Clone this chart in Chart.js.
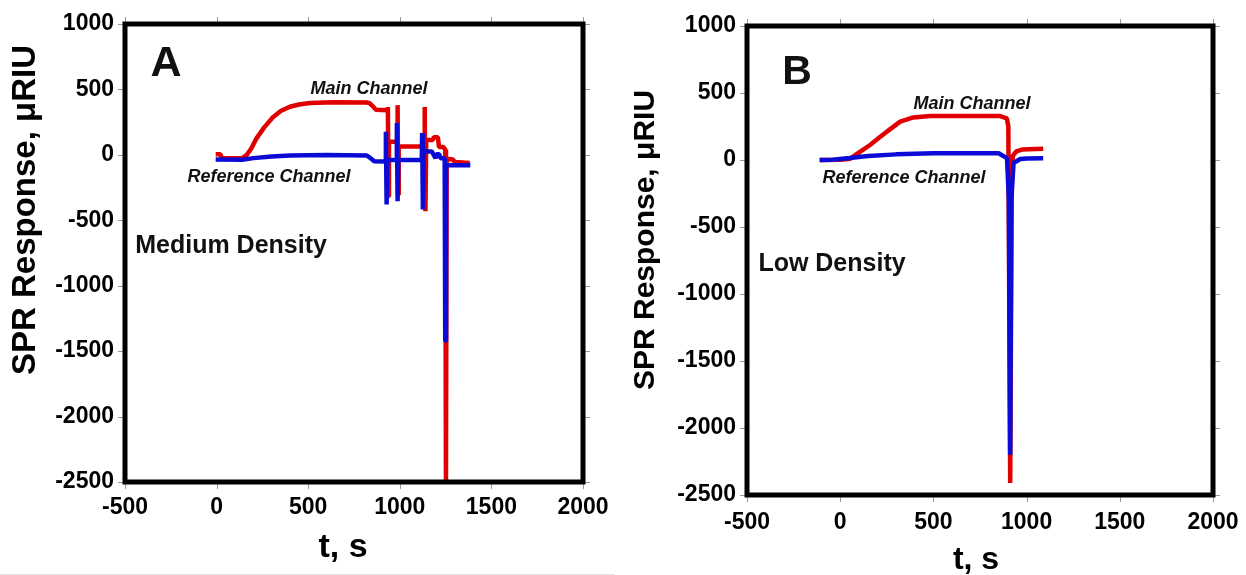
<!DOCTYPE html>
<html>
<head>
<meta charset="utf-8">
<script src="https://cdn.jsdelivr.net/npm/chart.js@4/dist/chart.umd.min.js"></script>
<style>
  html, body { margin: 0; padding: 0; background: #fff; }
  #wrapA { position: absolute; left: 0; top: 0; width: 615px; height: 575px; border-bottom: 1px solid #e4e4e4; box-sizing: border-box; }
  #wrapB { position: absolute; left: 620px; top: 0; width: 626px; height: 575px; }
</style>
</head>
<body>
<div id="wrapA"><canvas id="chartA"></canvas></div>
<div id="wrapB"><canvas id="chartB"></canvas></div>
<script>
// panel A - medium density (t in s, response in uRIU)
const mainA_t = [-5, 20, 30, 140, 165, 190, 215, 260, 306, 350, 400, 450, 510, 640, 820, 835, 850, 870, 932, 935, 938, 941, 986, 988, 991, 994, 1133, 1136, 1140, 1144, 1180, 1186, 1208, 1214, 1238, 1248, 1252, 1256, 1290, 1300, 1382];
const mainA_v = [5, 5, -25, -25, 0, 50, 120, 210, 285, 335, 368, 385, 397, 402, 400, 395, 375, 345, 340, 365, -317, 100, 100, 380, -304, 63, 63, 365, -431, 114, 114, 135, 135, 60, 60, 40, -2520, -30, -35, -55, -62];
const refA_t = [-5, 140, 200, 300, 400, 600, 820, 840, 860, 922, 924, 928, 931, 982, 984, 988, 991, 1120, 1122, 1126, 1130, 1175, 1185, 1195, 1200, 1215, 1222, 1245, 1248, 1252, 1385];
const refA_v = [-35, -38, -25, -12, -5, -2, -5, -25, -48, -50, 177, -380, -40, -40, 243, -355, -40, -40, 167, -418, 25, 25, 0, -25, 5, 5, -25, -25, -1420, -78, -80];

// panel B - low density
const mainB_t = [-110, 0, 54, 100, 160, 215, 270, 322, 392, 483, 858, 894, 902, 912, 920, 926, 945, 975, 1089];
const mainB_v = [0, 2, 10, 55, 112, 174, 232, 286, 318, 328, 328, 311, 250, -2410, -200, 30, 65, 78, 84];
const refB_t = [-110, -40, 50, 150, 300, 500, 850, 875, 895, 905, 912, 918, 930, 966, 1000, 1089];
const refB_v = [0, 2, 15, 30, 42, 50, 50, 30, 12, -300, -2200, -300, -22, 7, 12, 13];

const xTicks = [-500, 0, 500, 1000, 1500, 2000];
const yTicks = [1000, 500, 0, -500, -1000, -1500, -2000, -2500];

const RED = "#e00000";
const BLUE = "#0b0bd6";
const FONT = '"Liberation Sans", Arial, sans-serif';

const zip = (ts, vs) => ts.map((t, i) => ({ x: t, y: vs[i] }));

// thick black box, small grey ticks on all four sides, axis titles and notes
const framePlugin = {
  id: "frame",
  afterDatasetsDraw(chart, args, opts) {
    const { ctx, chartArea: a, scales } = chart;
    ctx.save();
    ctx.strokeStyle = "#999";
    ctx.lineWidth = 1;
    ctx.beginPath();
    xTicks.forEach((t) => {
      const px = Math.round(scales.x.getPixelForValue(t)) + 0.5;
      ctx.moveTo(px, a.top - 7); ctx.lineTo(px, a.top);
      ctx.moveTo(px, a.bottom); ctx.lineTo(px, a.bottom + 7);
    });
    yTicks.forEach((v) => {
      const py = Math.round(scales.y.getPixelForValue(v)) + 0.5;
      ctx.moveTo(a.left - 7, py); ctx.lineTo(a.left, py);
      ctx.moveTo(a.right, py); ctx.lineTo(a.right + 7, py);
    });
    ctx.stroke();
    ctx.strokeStyle = "#000";
    ctx.lineWidth = 5;
    ctx.strokeRect(a.left, a.top, a.right - a.left, a.bottom - a.top);

    ctx.textAlign = "center";
    ctx.textBaseline = "middle";
    ctx.fillStyle = "#000";
    const t = opts.titles;
    ctx.font = "bold " + t.xSize + "px " + FONT;
    ctx.fillText("t, s", t.xAt[0], t.xAt[1]);
    ctx.save();
    ctx.translate(t.yAt[0], t.yAt[1]);
    ctx.rotate(-Math.PI / 2);
    ctx.font = "bold " + t.ySize + "px " + FONT;
    ctx.fillText("SPR Response, \u03bcRIU", 0, 0);
    ctx.restore();

    ctx.fillStyle = "#111";
    (opts.notes || []).forEach((n) => {
      ctx.font = n.font + " " + FONT;
      ctx.fillText(n.text, scales.x.getPixelForValue(n.x), scales.y.getPixelForValue(n.y));
    });
    ctx.restore();
  },
};

function makeChart(id, main, ref, box, titles, notes) {
  return new Chart(document.getElementById(id), {
    type: "line",
    data: {
      datasets: [
        { label: "Reference Channel", data: ref, borderColor: BLUE, borderWidth: 4.5, pointRadius: 0, borderJoinStyle: "bevel", order: 1 },
        { label: "Main Channel", data: main, borderColor: RED, borderWidth: 4.5, pointRadius: 0, borderJoinStyle: "bevel", order: 2 },
      ],
    },
    options: {
      responsive: true,
      maintainAspectRatio: false,
      animation: false,
      layout: { padding: { left: 0, top: box.top, right: box.right, bottom: 0 } },
      plugins: {
        legend: { display: false },
        tooltip: { enabled: false },
        frame: { notes: notes, titles: titles },
      },
      scales: {
        x: {
          type: "linear",
          min: -500,
          max: 2000,
          afterBuildTicks: (s) => { s.ticks = xTicks.map((v) => ({ value: v })); },
          afterFit: (s) => { s.height = box.xh; s.paddingLeft = 0; s.paddingRight = 0; },
          grid: { display: false, drawTicks: false },
          border: { display: false },
          ticks: { color: "#000", padding: box.xPad, callback: (v) => String(v), font: { family: FONT, size: 23, weight: "bold" } },
        },
        y: {
          type: "linear",
          min: -2500,
          max: 1000,
          afterBuildTicks: (s) => { s.ticks = yTicks.map((v) => ({ value: v })); },
          afterFit: (s) => { s.width = box.yw; s.paddingTop = 0; s.paddingBottom = 0; },
          grid: { display: false, drawTicks: false },
          border: { display: false },
          ticks: { color: "#000", padding: 11, callback: (v) => String(v), font: { family: FONT, size: 23, weight: "bold" } },
        },
      },
    },
    plugins: [framePlugin],
  });
}

makeChart("chartA", zip(mainA_t, mainA_v), zip(refA_t, refA_v),
  { top: 24, right: 32, xh: 92, yw: 125, xPad: 12 },
  { xSize: 34, xAt: [343, 548], ySize: 33, yAt: [26, 210] },
  [
    { text: "A", x: -276, y: 695, font: "bold 43px" },
    { text: "Main Channel", x: 832, y: 504, font: "italic bold 18px" },
    { text: "Reference Channel", x: 286, y: -167, font: "italic bold 18px" },
    { text: "Medium Density", x: 79, y: -700, font: "bold 25px" },
  ]);

makeChart("chartB", zip(mainB_t, mainB_v), zip(refB_t, refB_v),
  { top: 26, right: 33, xh: 80, yw: 127, xPad: 14 },
  { xSize: 32, xAt: [356, 560], ySize: 30, yAt: [26, 240] },
  [
    { text: "B", x: -232, y: 649, font: "bold 41px" },
    { text: "Main Channel", x: 707, y: 418, font: "italic bold 18px" },
    { text: "Reference Channel", x: 342, y: -134, font: "italic bold 18px" },
    { text: "Low Density", x: -44, y: -776, font: "bold 25px" },
  ]);
</script>
</body>
</html>
